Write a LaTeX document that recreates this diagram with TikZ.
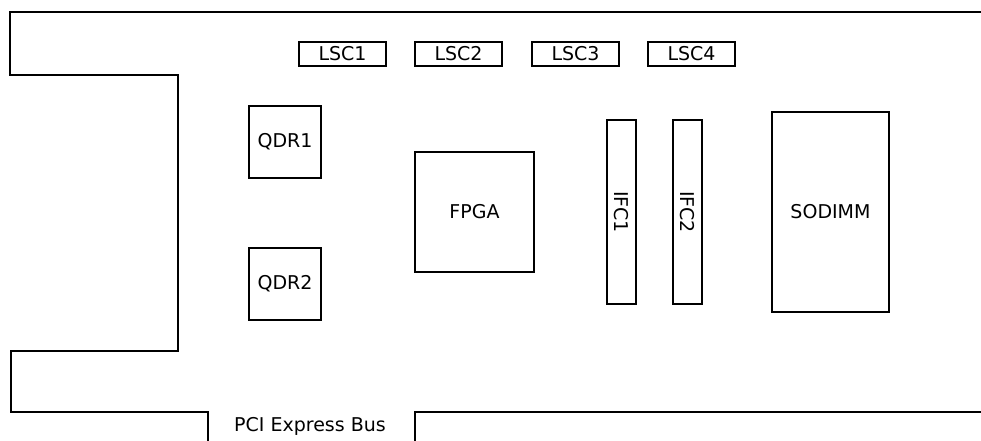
\documentclass[tikz,border=0pt]{standalone}
\usepackage{fontspec}
\setmainfont{DejaVu Sans}
\tikzset{
  lbl/.style={font=\fontsize{19}{22}\selectfont},
  box/.style={draw=black,line width=1.9pt,inner sep=0pt,outer sep=0pt,anchor=north west,lbl},
  outline/.style={draw=black,line width=1.9pt}
}
% name, left, top, right, bottom, text
\newcommand{\bx}[6]{\node[box,minimum width={(#4-#2)*1pt},minimum height={(#5-#3)*1pt}] (#1) at (#2,-#3) {#6};}
\begin{document}
\begin{tikzpicture}[x=1pt,y=1pt]
\useasboundingbox (0,0) rectangle (981,-441);
\draw[outline] (981,-12) -- (10,-12) -- (10,-75) -- (178,-75) -- (178,-351) -- (11,-351) -- (11,-412) -- (208,-412) -- (208,-441);
\draw[outline] (415,-441) -- (415,-412) -- (981,-412);
\bx{lsca}{299}{42}{386}{66}{LSC1}
\bx{lscb}{415}{42}{502}{66}{LSC2}
\bx{lscc}{532}{42}{619}{66}{LSC3}
\bx{lscd}{648}{42}{735}{66}{LSC4}
\bx{qdra}{249}{106}{321}{178}{QDR1}
\bx{qdrb}{249}{248}{321}{320}{QDR2}
\bx{fpga}{415}{152}{534}{272}{FPGA}
\bx{ifca}{607}{120}{636}{304}{}
\node[lbl,rotate=-90] (ifcal) at (ifca.center) {IFC1};
\bx{ifcb}{673}{120}{702}{304}{}
\node[lbl,rotate=-90] (ifcbl) at (ifcb.center) {IFC2};
\bx{sodimm}{772}{112}{889}{312}{SODIMM}
\node[lbl] (pci) at (310,-426) {PCI Express Bus};
\end{tikzpicture}
\end{document}
